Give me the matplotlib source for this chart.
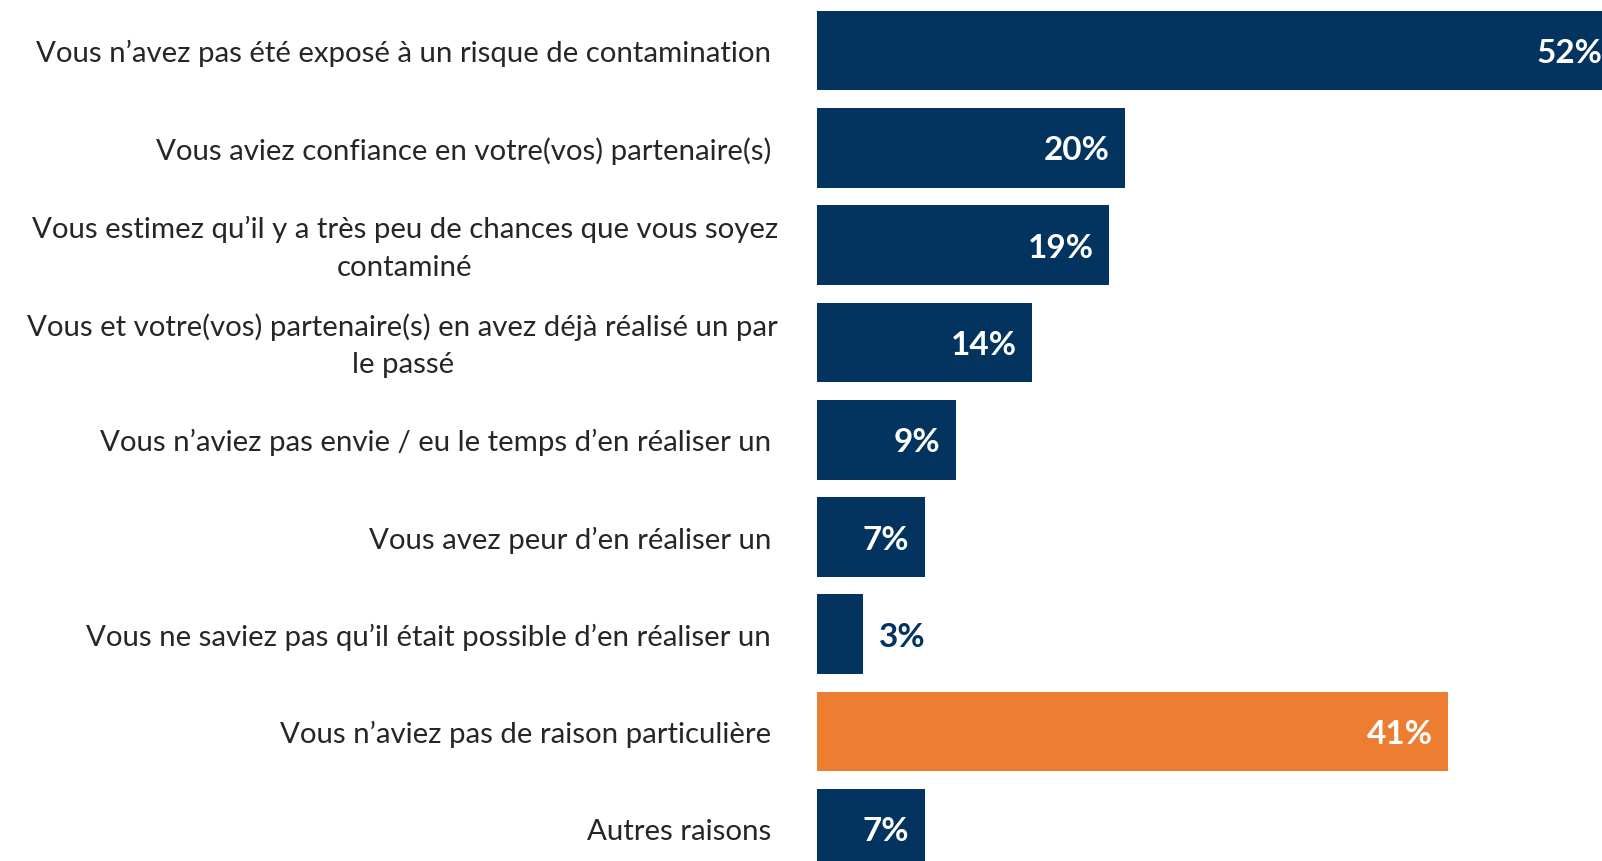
import matplotlib.pyplot as plt

categories = [
    "Vous n\u2019avez pas été exposé à un risque de contamination",
    "Vous aviez confiance en votre(vos) partenaire(s)",
    "Vous estimez qu\u2019il y a très peu de chances que vous soyez\ncontaminé",
    "Vous et votre(vos) partenaire(s) en avez déjà réalisé un par\nle passé",
    "Vous n\u2019aviez pas envie / eu le temps d\u2019en réaliser un",
    "Vous avez peur d\u2019en réaliser un",
    "Vous ne saviez pas qu\u2019il était possible d\u2019en réaliser un",
    "Vous n\u2019aviez pas de raison particulière",
    "Autres raisons",
]
values = [52, 20, 19, 14, 9, 7, 3, 41, 7]

navy = "#03335f"
orange = "#ed7d31"
colors = [navy] * 7 + [orange, navy]

plt.rcParams["font.family"] = ["Lato", "DejaVu Sans"]

fig = plt.figure(figsize=(16.02, 8.62), dpi=100)
ax = fig.add_axes([817 / 1602, 0, 1 - 817 / 1602, 1])

pos = list(range(len(values)))
ax.barh(pos, values, height=0.82, color=colors)
ax.set_xlim(0, 51.0)
ax.set_ylim(8.33, -0.53)

for y, v in zip(pos, values):
    if v >= 5:
        ax.annotate(f"{v}%", xy=(v - 1.0, y), xytext=(0, -1.5), textcoords="offset points",
                    ha="right", va="center", color="white",
                    fontsize=24, fontweight="bold", annotation_clip=False)
    else:
        ax.annotate(f"{v}%", xy=(v + 1.0, y), xytext=(0, -1.5), textcoords="offset points",
                    ha="left", va="center", color=navy,
                    fontsize=24, fontweight="bold")

# category labels, wrapped ones centred on their own block
for y, lab in zip(pos, categories):
    off = -28 if "\n" in lab else -33
    ax.annotate(lab, xy=(0, y), xycoords=("axes fraction", "data"),
                xytext=(off, -1.5), textcoords="offset points",
                ha="right", va="center", multialignment="center",
                fontsize=21.2, color="#262626", linespacing=1.55)

ax.set_yticks([])
ax.set_xticks([])
for s in ax.spines.values():
    s.set_visible(False)

fig.savefig("out.png", dpi=100)
